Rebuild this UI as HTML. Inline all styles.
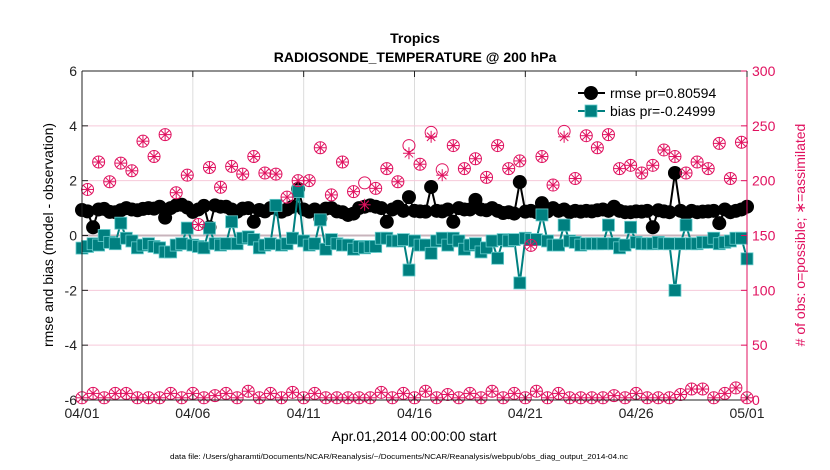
<!DOCTYPE html>
<html><head><meta charset="utf-8">
<style>
html,body{margin:0;padding:0;background:#fff;}
svg{display:block;font-family:"Liberation Sans",Arial,sans-serif;}
</style></head>
<body>
<svg id="chart" width="830" height="470" viewBox="0 0 830 470">
  <text x="415" y="43" text-anchor="middle" font-size="14" font-weight="bold">Tropics</text>
  <text x="415" y="62" text-anchor="middle" font-size="14" font-weight="bold">RADIOSONDE_TEMPERATURE @ 200 hPa</text>
  <g id="grid"></g>
  <g id="series"></g>
  <g id="counts"></g>
  <g id="axes"></g>
  <text x="414" y="441" text-anchor="middle" font-size="14">Apr.01,2014 00:00:00 start</text>
  <text x="399" y="459" text-anchor="middle" font-size="7.5" textLength="458" lengthAdjust="spacingAndGlyphs">data file: /Users/gharamti/Documents/NCAR/Reanalysis/~/Documents/NCAR/Reanalysis/webpub/obs_diag_output_2014-04.nc</text>
  <text transform="translate(53,235) rotate(-90)" text-anchor="middle" font-size="14">rmse and bias (model - observation)</text>
  <text transform="translate(805,235) rotate(-90)" text-anchor="middle" font-size="14" fill="#e0115f"># of obs: o=possible; ∗=assimilated</text>
  <g id="legend">
    <rect x="574" y="76" width="170" height="44" fill="#fff"/>
    <g>
      <line x1="578" y1="93" x2="605" y2="93" stroke="#000" stroke-width="2"/>
      <circle cx="591" cy="93" r="7" fill="#000"/>
      <text x="610" y="98" font-size="14">rmse pr=0.80594</text>
    </g>
    <g>
      <line x1="578" y1="111" x2="605" y2="111" stroke="#008080" stroke-width="2"/>
      <rect x="585" y="105" width="12" height="12" fill="#008080" stroke="#6cc" stroke-width="0.8"/>
      <text x="610" y="116" font-size="14">bias pr=-0.24999</text>
    </g>
  </g>
</svg>
<script>
// ---- data (6-hourly, 04/01 00Z .. 05/01 00Z) ----
const rmse = [0.93,0.88,0.30,0.95,0.97,0.86,0.85,0.92,1.00,0.95,
0.92,0.97,1.00,0.98,1.05,0.65,1.00,1.10,1.12,1.02,
0.86,0.95,1.08,0.30,1.10,1.05,1.05,0.95,0.87,0.98,
1.00,0.50,0.93,0.88,1.00,1.00,0.87,0.95,1.05,1.70,
0.95,0.87,0.95,0.62,0.98,1.00,0.88,0.85,0.75,0.80,
1.00,1.05,1.10,1.05,1.00,0.50,0.95,1.05,0.90,1.40,
0.90,0.88,0.87,1.77,0.90,0.88,0.95,0.50,1.00,0.95,
0.95,1.30,0.95,0.92,1.00,0.90,0.82,0.85,0.80,1.95,
0.87,0.90,0.85,1.18,0.88,1.00,0.90,0.95,0.85,0.90,
0.87,0.90,0.88,0.92,0.95,0.90,1.05,0.90,0.85,0.85,
0.88,0.87,0.90,0.30,0.92,0.88,0.85,2.28,0.90,0.80,
0.90,0.85,0.87,0.88,0.90,0.45,0.95,0.85,0.90,0.95,
1.05];
const bias = [-0.46,-0.40,-0.30,-0.35,0.00,-0.25,-0.30,0.45,-0.10,-0.20,
-0.45,-0.35,-0.30,-0.40,-0.45,-0.60,-0.60,-0.35,-0.30,0.27,
-0.35,-0.40,-0.45,0.27,-0.30,-0.35,-0.30,0.50,-0.30,-0.10,
-0.05,-0.15,-0.45,-0.35,-0.30,1.10,-0.35,-0.30,-0.10,1.60,
-0.20,-0.35,-0.30,0.57,-0.50,-0.15,-0.30,-0.35,-0.35,-0.50,
-0.40,-0.45,-0.40,-0.40,-0.10,-0.10,-0.20,-0.20,-0.15,-1.26,
-0.20,-0.35,-0.35,-0.65,-0.20,-0.10,-0.35,-0.10,-0.20,-0.50,
-0.35,-0.30,-0.60,-0.45,-0.20,-0.83,-0.15,-0.20,-0.15,-1.73,
-0.10,-0.15,-0.15,0.75,-0.20,-0.35,-0.35,0.38,-0.20,-0.25,
-0.35,-0.30,-0.30,-0.30,-0.30,0.38,-0.30,-0.45,-0.35,0.30,
-0.25,-0.30,-0.30,-0.30,-0.25,-0.30,-0.30,-2.00,-0.30,0.38,
-0.30,-0.30,-0.25,-0.25,-0.10,-0.30,-0.25,-0.20,-0.10,-0.10,
-0.85];
// counts at odd 6h steps (high) and even steps (low)
const possibleHigh = [192,217,199,216,209,236,222,242,189,205,160,212,194,213,206,222,207,206,185,200,
200,230,187,217,190,198,193,211,199,232,215,244,210,232,211,220,203,232,211,218,
141,222,196,245,202,241,230,242,211,214,207,214,228,222,207,217,211,234,202,235];
const assimilatedHigh = [192,217,199,216,209,236,222,242,189,205,160,212,194,213,206,222,207,206,185,200,
200,230,187,217,190,178,193,211,199,225,215,240,205,232,211,220,203,232,211,218,
141,222,196,240,202,241,230,242,211,214,207,214,228,222,207,217,211,234,202,235];
const possibleLow = [2,6,2,6,6,2,2,2,6,2,6,2,4,6,2,8,2,6,2,7,2,6,2,2,2,2,2,7,2,6,2,
8,2,5,2,6,2,8,2,6,2,8,2,6,2,2,2,2,4,2,6,2,2,2,5,10,10,2,6,11,2];
const assimilatedLow = possibleLow.slice();
const dateTicks = ['04/01','04/06','04/11','04/16','04/21','04/26','05/01'];
const leftTicks = [-6,-4,-2,0,2,4,6];
const rightTicks = [0,50,100,150,200,250,300];

// ---- scales ----
const X0=82, X1=747, Y0=400, Y1=71, NS='http://www.w3.org/2000/svg';
const PINK='#e0115f', TEAL='#008080';
const xDay = d => X0 + (d/30)*(X1-X0);
const xStep = i => xDay(i/4);
const yL = v => Y0 - (v+6)/12*(Y0-Y1);
const yR = v => Y0 - v/300*(Y0-Y1);
function mk(tag, attrs, parent){const e=document.createElementNS(NS,tag);for(const k in attrs)e.setAttribute(k,attrs[k]);parent.appendChild(e);return e;}
const grid=document.getElementById('grid'), ser=document.getElementById('series'), cnt=document.getElementById('counts'), ax=document.getElementById('axes');

// grid
dateTicks.forEach((t,k)=>{const x=xDay(k*5);
  const l=mk('line',{x1:x,y1:Y1,x2:x,y2:Y0,stroke:'#dcdcdc','stroke-width':1},grid);
  
  });
rightTicks.forEach(t=>{const y=yR(t);
  const l=mk('line',{x1:X0,y1:y,x2:X1,y2:y,stroke:'#f6c9da','stroke-width':1},grid);
  
  });
const zl=mk('line',{x1:X0,y1:yL(0),x2:X1,y2:yL(0),stroke:'#c8b4bc','stroke-width':2},grid);



// series lines
function linePath(arr){return arr.map((v,i)=>(i?'L':'M')+xStep(i).toFixed(2)+','+yL(v).toFixed(2)).join('');}
const rl=mk('path',{d:linePath(rmse),fill:'none',stroke:'#000','stroke-width':2},ser);


rmse.forEach((v,i)=>{const c=mk('circle',{cx:xStep(i),cy:yL(v),r:7,fill:'#000'},ser);
  
  });
const bl=mk('path',{d:linePath(bias),fill:'none',stroke:TEAL,'stroke-width':2},ser);


bias.forEach((v,i)=>{const r=mk('rect',{x:xStep(i)-6,y:yL(v)-6,width:12,height:12,fill:TEAL,stroke:'#6cc','stroke-width':0.8},ser);
  
  });

// count markers
function countMarker(x,yp,ya){
  const g=mk('g',{},cnt);
  
  
  mk('circle',{cx:x,cy:yp,r:6,fill:'none',stroke:PINK,'stroke-width':1},g);
  const s=6;
  [[0,s],[s,0],[s*0.7,s*0.7],[s*0.7,-s*0.7]].forEach(([dx,dy])=>mk('line',{x1:x-dx,y1:ya-dy,x2:x+dx,y2:ya+dy,stroke:PINK,'stroke-width':1},g));
}
possibleLow.forEach((v,k)=>countMarker(xStep(2*k),yR(v),yR(assimilatedLow[k])));
possibleHigh.forEach((v,k)=>countMarker(xStep(2*k+1),yR(v),yR(assimilatedHigh[k])));

// axes
const axl=mk('path',{d:`M${X0},${Y1}L${X0},${Y0}L${X1},${Y0}M${X0},${Y1}L${X1},${Y1}`,fill:'none',stroke:'#222','stroke-width':1},ax);


const axr=mk('line',{x1:X1,y1:Y1,x2:X1,y2:Y0,stroke:PINK,'stroke-width':1},ax);


leftTicks.forEach(t=>{const y=yL(t);
  mk('line',{x1:X0,y1:y,x2:X0+6,y2:y,stroke:'#222'},ax);
  const tx=mk('text',{x:X0-5,y:y+5,'text-anchor':'end','font-size':14,fill:'#222'},ax);
  tx.textContent=String(t);
  
  });
rightTicks.forEach(t=>{const y=yR(t);
  mk('line',{x1:X1-6,y1:y,x2:X1,y2:y,stroke:PINK},ax);
  const tx=mk('text',{x:X1+5,y:y+5,'font-size':14,fill:PINK},ax);
  tx.textContent=String(t);
  
  });
dateTicks.forEach((t,k)=>{const x=xDay(k*5);
  mk('line',{x1:x,y1:Y0,x2:x,y2:Y0-6,stroke:'#222'},ax);
  mk('line',{x1:x,y1:Y1,x2:x,y2:Y1+6,stroke:'#222'},ax);
  const tx=mk('text',{x:x,y:Y0+18,'text-anchor':'middle','font-size':14,fill:'#222'},ax);
  tx.textContent=t;
  
  });
</script>
</body></html>
